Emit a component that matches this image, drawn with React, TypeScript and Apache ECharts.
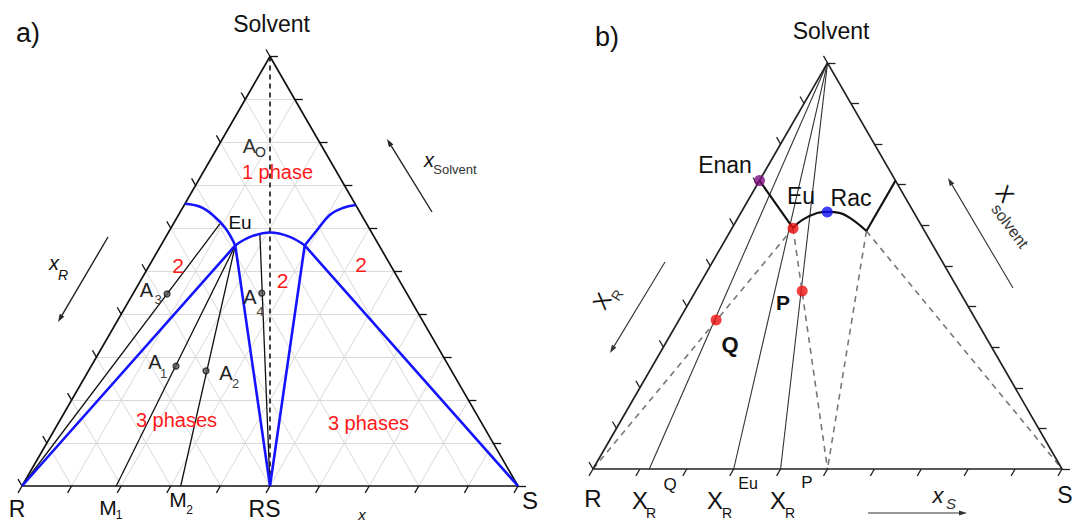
import { useEffect, useRef } from "react";
import * as echarts from "echarts";

const H = Math.sqrt(3) / 2;
const FONT = '"Liberation Sans", Arial, Helvetica, sans-serif';

// Ternary compositions are written as [x_S, x_Solvent]; x_R = 1 - x_S - x_Solvent.
type Comp = [number, number];

const axisSteps = [0, 0.1, 0.2, 0.3, 0.4, 0.5, 0.6, 0.7, 0.8, 0.9, 1];
const gridSteps = [0.1, 0.2, 0.3, 0.4, 0.5, 0.6, 0.7, 0.8, 0.9];

// ---------- panel a ----------
const aR: Comp = [0, 0];
const aS: Comp = [1, 0];
const aSolvent: Comp = [0, 1];
const aRS: Comp = [0.5, 0];
const aEu: Comp = [0.15, 0.56];
const aEuS: Comp = [0.29, 0.56];
const aLeftBranch: Comp[] = [[0.0, 0.657], [0.034, 0.65], [0.069, 0.631], [0.109, 0.601], [0.15, 0.56]];
const aCentralBranch: Comp[] = [[0.15, 0.56], [0.17, 0.58], [0.205, 0.59], [0.25, 0.58], [0.29, 0.56]];
const aRightBranch: Comp[] = [[0.29, 0.56], [0.297, 0.596], [0.305, 0.631], [0.323, 0.647], [0.346, 0.654]];
const aM1: Comp = [0.19, 0];
const aM2: Comp = [0.32, 0];
const aTieLeftEnd: Comp = [0.094, 0.61];
const aTieCentralEnd: Comp = [0.185, 0.589];
const aSamples: Comp[] = [[0.171, 0.279], [0.237, 0.268], [0.069, 0.447], [0.259, 0.449]]; // A1..A4

// ---------- panel b ----------
const bR: Comp = [0, 0];
const bS: Comp = [1, 0];
const bSolvent: Comp = [0, 1];
const bRS: Comp = [0.5, 0];
const bEnan: Comp = [0, 0.71];
const bEu: Comp = [0.13, 0.593];
const bRac: Comp = [0.183, 0.633];
const bCorner: Comp = [0.29, 0.586];
const bRightEdge: Comp = [0.29, 0.71];
const bCurve: Comp[] = [[0.13, 0.593], [0.139, 0.613], [0.163, 0.63], [0.183, 0.633], [0.212, 0.63], [0.248, 0.613], [0.29, 0.586]];
const bXRQ: Comp = [0.12, 0];
const bXREu: Comp = [0.3, 0];
const bXRP: Comp = [0.4, 0];
const bQ: Comp = [0.079, 0.367];
const bP: Comp = [0.227, 0.438];

const toXY = (c: Comp) => [c[0] + c[1] / 2, c[1] * H];

function poly(pts: Comp[], g: number, color: string, width: number, opts: any = {}) {
  return {
    type: "line",
    xAxisIndex: g,
    yAxisIndex: g,
    data: pts.map(toXY),
    symbol: "none",
    showSymbol: false,
    clip: false,
    silent: true,
    smooth: opts.smooth || false,
    z: opts.z || 3,
    lineStyle: { color, width, type: opts.dash || "solid", cap: "butt", join: "round" },
  };
}

function segs(list: number[][][], g: number, color: string, width: number, z = 2) {
  return {
    type: "lines",
    coordinateSystem: "cartesian2d",
    xAxisIndex: g,
    yAxisIndex: g,
    clip: false,
    silent: true,
    z,
    data: list.map((c) => ({ coords: c })),
    lineStyle: { color, width, opacity: 1, curveness: 0 },
  };
}

function tickSegs(L: number) {
  const out: number[][][] = [];
  for (const k of axisSteps) {
    out.push([[k, 0], [k - 0.5 * L, -H * L]]);
    out.push([[1 - k / 2, k * H], [1 - k / 2 + L, k * H]]);
    out.push([[k / 2, k * H], [k / 2 - 0.5 * L, k * H + H * L]]);
  }
  return out;
}

function gridSegs() {
  const out: number[][][] = [];
  for (const k of gridSteps) {
    out.push([toXY([0, k]), toXY([1 - k, k])]);
    out.push([toXY([k, 0]), toXY([k, 1 - k])]);
    out.push([toXY([1 - k, 0]), toXY([0, 1 - k])]);
  }
  return out;
}

const txt = (text: string, x: number, y: number, size: number, extra: any = {}) => ({
  type: "text",
  x,
  y,
  rotation: extra.rotation || 0,
  z: 100,
  silent: true,
  style: {
    text,
    x: 0,
    y: 0,
    fontSize: size,
    fontFamily: FONT,
    fill: extra.fill || "#111",
    align: extra.align || "center",
    verticalAlign: "middle",
    fontStyle: extra.italic ? "italic" : "normal",
    fontWeight: extra.bold ? "bold" : "normal",
  },
});

function arrow(x1: number, y1: number, x2: number, y2: number, color = "#222", w = 1.4, head = 8, half = 2.6) {
  const dx = x2 - x1, dy = y2 - y1, len = Math.hypot(dx, dy);
  const ux = dx / len, uy = dy / len;
  const bx = x2 - ux * head, by = y2 - uy * head;
  return [
    { type: "line", z: 100, silent: true, shape: { x1, y1, x2: bx, y2: by }, style: { stroke: color, lineWidth: w } },
    {
      type: "polygon",
      z: 100,
      silent: true,
      shape: { points: [[x2, y2], [bx - uy * half, by + ux * half], [bx + uy * half, by - ux * half]] },
      style: { fill: color },
    },
  ];
}

export default function App() {
  const ref = useRef<HTMLDivElement>(null);

  useEffect(() => {
    if (!ref.current) return;
    const chart = echarts.init(ref.current, undefined, { renderer: "svg" });

    const BLUE = "#1414ff";
    const RED = "#ff1a1a";
    const axis = (g: number, max: number) => ({
      type: "value",
      gridIndex: g,
      min: 0,
      max,
      show: false,
      splitLine: { show: false },
    });

    const series: any[] = [
      // panel a
      segs(gridSegs(), 0, "#d9d9d9", 1, 1),
      segs(tickSegs(8 / 496), 0, "#111", 1.3, 4),
      poly([aR, aS, aSolvent, aR], 0, "#111", 1.7, { z: 4 }),
      poly([aSolvent, aRS], 0, "#111", 1.6, { dash: [5, 4], z: 3 }),
      poly([aR, aTieLeftEnd], 0, "#111", 1.3),
      poly([aM1, aEu], 0, "#111", 1.3),
      poly([aM2, aEu], 0, "#111", 1.3),
      poly([aRS, aTieCentralEnd], 0, "#111", 1.3),
      poly(aLeftBranch, 0, BLUE, 2.6, { smooth: 0.4, z: 5 }),
      poly(aCentralBranch, 0, BLUE, 2.6, { smooth: 0.4, z: 5 }),
      poly(aRightBranch, 0, BLUE, 2.6, { smooth: 0.4, z: 5 }),
      poly([aR, aEu, aRS], 0, BLUE, 2.6, { z: 5 }),
      poly([aRS, aEuS, aS], 0, BLUE, 2.6, { z: 5 }),
      {
        type: "scatter",
        xAxisIndex: 0,
        yAxisIndex: 0,
        clip: false,
        silent: true,
        z: 6,
        symbol: "circle",
        symbolSize: 6,
        data: aSamples.map(toXY),
        itemStyle: { color: "#555", borderColor: "#111", borderWidth: 1.2 },
      },
      // panel b
      segs(tickSegs(8 / 469), 1, "#222", 1.3, 4),
      poly([bR, bS, bSolvent, bR], 1, "#222", 1.7, { z: 4 }),
      poly([bSolvent, bXRQ], 1, "#333", 1.1),
      poly([bSolvent, bXREu], 1, "#333", 1.1),
      poly([bSolvent, bXRP], 1, "#333", 1.1),
      poly([bR, bEu], 1, "#777", 1.6, { dash: [6, 5] }),
      poly([bEu, bRS], 1, "#777", 1.6, { dash: [6, 5] }),
      poly([bCorner, bRS], 1, "#777", 1.6, { dash: [6, 5] }),
      poly([bCorner, bS], 1, "#777", 1.6, { dash: [6, 5] }),
      poly([bEnan, bEu], 1, "#111", 2.1, { z: 5 }),
      poly(bCurve, 1, "#111", 2.1, { smooth: 0.4, z: 5 }),
      poly([bCorner, bRightEdge], 1, "#111", 2.1, { z: 5 }),
      {
        type: "scatter",
        xAxisIndex: 1,
        yAxisIndex: 1,
        clip: false,
        silent: true,
        z: 6,
        symbol: "circle",
        symbolSize: 11,
        data: [
          { value: toXY(bEnan), itemStyle: { color: "#7d0f80" } },
          { value: toXY(bEu), itemStyle: { color: "#f01010" } },
          { value: toXY(bRac), itemStyle: { color: "#1010f0" } },
          { value: toXY(bP), itemStyle: { color: "#f01010" } },
          { value: toXY(bQ), itemStyle: { color: "#f01010" } },
        ],
      },
    ];

    const graphic: any[] = [
      // panel a texts
      txt("a)", 16, 33, 27, { align: "left" }),
      txt("Solvent", 271.5, 24, 23),
      txt("A", 249.5, 145.5, 20, { fill: "#333" }),
      txt("O", 260.5, 152, 14, { fill: "#333" }),
      txt("1 phase", 277.5, 172, 20, { fill: RED }),
      txt("Eu", 240, 222, 19),
      txt("2", 178, 265, 21, { fill: RED }),
      txt("2", 282.5, 280, 21, { fill: RED }),
      txt("2", 361, 264, 21, { fill: RED }),
      txt("A", 146.5, 290, 20, { fill: "#222" }),
      txt("3", 158, 299.5, 13, { fill: "#444" }),
      txt("A", 155, 362, 20, { fill: "#222" }),
      txt("1", 163.5, 373, 13, { fill: "#444" }),
      txt("A", 226, 373, 20, { fill: "#222" }),
      txt("2", 235.5, 383, 13, { fill: "#444" }),
      txt("A", 250, 297, 20, { fill: "#222" }),
      txt("4", 260, 311, 13, { fill: "#444" }),
      txt("3 phases", 176.5, 420, 20, { fill: RED }),
      txt("3 phases", 368.5, 423, 20, { fill: RED }),
      txt("R", 17, 509, 23),
      txt("M", 108, 507, 21),
      txt("1", 119, 515, 12),
      txt("M", 178, 499, 21),
      txt("2", 189.5, 510, 12),
      txt("RS", 264.5, 509, 23),
      txt("S", 530, 500, 24),
      txt("x", 362, 514, 15, { italic: true }),
      txt("x", 54, 263, 20, { italic: true }),
      txt("R", 63, 275, 14, { italic: true }),
      ...arrow(108, 237, 58, 322),
      txt("x", 429, 160, 20, { italic: true }),
      txt("Solvent", 455, 169, 13, { fill: "#333" }),
      ...arrow(432, 212, 387, 139),

      // panel b texts
      txt("b)", 607, 37, 27),
      txt("Solvent", 831, 31, 23),
      txt("Enan", 725, 165, 23),
      txt("Eu", 801, 196, 23),
      txt("Rac", 851, 198, 23),
      txt("P", 783, 302, 21, { bold: true }),
      txt("Q", 730, 344, 22, { bold: true }),
      txt("R", 593, 498, 24),
      txt("X", 640, 500, 24),
      txt("R", 651, 513, 14),
      txt("Q", 670, 484, 17),
      txt("X", 715, 500, 24),
      txt("R", 727, 513, 14),
      txt("Eu", 748, 483, 16),
      txt("X", 778, 500, 24),
      txt("R", 790, 513, 14),
      txt("P", 807, 482, 17),
      txt("S", 1065, 495, 23),
      txt("x", 938, 495, 22, { italic: true }),
      txt("S", 951, 503, 15, { italic: true, fill: "#333" }),
      ...arrow(868, 513, 967, 513, "#333", 1.2),
      txt("X", 602, 301, 22, { rotation: 1.03 }),
      txt("R", 617, 295, 14, { rotation: 1.03, fill: "#333" }),
      ...arrow(665, 262, 610, 353, "#333", 1.1),
      txt("X", 1005, 194, 22, { rotation: -0.93 }),
      txt("solvent", 1010, 226, 16, { rotation: -0.93, fill: "#333" }),
      ...arrow(1013, 288, 948, 178, "#333", 1.1),
    ];

    chart.setOption({
      animation: false,
      backgroundColor: "#ffffff",
      grid: [
        { left: 22, top: 486 - 496 * H, width: 496, height: 496 * H, containLabel: false },
        { left: 593, top: 469 - 469 * H, width: 469, height: 469 * H, containLabel: false },
      ],
      xAxis: [axis(0, 1), axis(1, 1)],
      yAxis: [axis(0, H), axis(1, H)],
      series,
      graphic,
    });

    return () => chart.dispose();
  }, []);

  return (
    <div
      ref={ref}
      style={{ position: "absolute", left: 0, top: 0, width: 1075, height: 522, background: "#fff" }}
    />
  );
}
